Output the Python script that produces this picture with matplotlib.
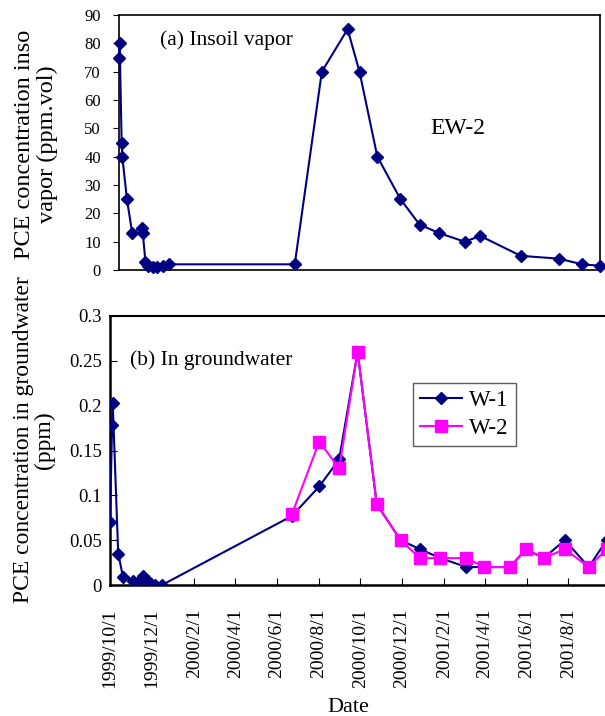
import matplotlib
matplotlib.use("Agg")
import matplotlib.pyplot as plt
import pandas as pd

plt.rcParams['font.family'] = ['Liberation Serif', 'DejaVu Serif']

# ---- data: (a) in-soil vapor, EW-2 ----
vapor_dates = ["1999-10-01", "1999-10-02", "1999-10-05", "1999-10-06", "1999-10-13",
               "1999-10-21", "1999-11-05", "1999-11-06", "1999-11-10", "1999-11-14",
               "1999-11-21", "1999-11-27", "1999-12-07", "1999-12-16", "2000-06-23",
               "2000-08-03", "2000-09-11", "2000-09-29", "2000-10-26", "2000-11-30",
               "2000-12-29", "2001-01-28", "2001-03-07", "2001-03-31", "2001-05-31",
               "2001-07-28", "2001-09-01", "2001-09-28"]
vapor_ew2 = [75, 80, 45, 40, 25, 13, 15, 13, 3, 1.5, 1, 1.2, 1.5, 2, 2,
             70, 85, 70, 40, 25, 16, 13, 10, 12, 5, 4, 2, 1.5]

# ---- data: (b) groundwater ----
w1_dates = ["1999-10-01", "1999-10-04", "1999-10-05", "1999-10-13", "1999-10-20",
            "1999-11-04", "1999-11-10", "1999-11-18", "1999-11-26", "1999-12-06",
            "1999-12-16", "2000-06-23", "2000-08-02", "2000-08-31", "2000-09-27",
            "2000-10-25", "2000-11-29", "2000-12-27", "2001-01-26", "2001-03-05",
            "2001-03-31", "2001-05-08", "2001-05-31", "2001-06-26", "2001-07-27",
            "2001-08-31", "2001-09-26"]
w1_vals = [0.07, 0.178, 0.203, 0.035, 0.009, 0.005, 0.002, 0.01, 0.005, 0.0, 0.0,
           0.077, 0.11, 0.14, 0.26, 0.09, 0.05, 0.04, 0.03, 0.02,
           0.02, 0.02, 0.04, 0.03, 0.05, 0.02, 0.05]

w2_dates = ["2000-06-23", "2000-08-02", "2000-08-31", "2000-09-27", "2000-10-25",
            "2000-11-29", "2000-12-27", "2001-01-26", "2001-03-05", "2001-03-31",
            "2001-05-08", "2001-05-31", "2001-06-26", "2001-07-27", "2001-08-31",
            "2001-09-26"]
w2_vals = [0.079, 0.16, 0.13, 0.26, 0.09, 0.05, 0.03, 0.03, 0.03, 0.02,
           0.02, 0.04, 0.03, 0.04, 0.02, 0.04]

tick_dates = ["1999-10-01", "1999-12-01", "2000-02-01", "2000-04-01", "2000-06-01",
              "2000-08-01", "2000-10-01", "2000-12-01", "2001-02-01", "2001-04-01",
              "2001-06-01", "2001-08-01"]
tick_labels = ["1999/10/1", "1999/12/1", "2000/2/1", "2000/4/1", "2000/6/1",
               "2000/8/1", "2000/10/1", "2000/12/1", "2001/2/1", "2001/4/1",
               "2001/6/1", "2001/8/1"]

vapor_yticks = [0, 10, 20, 30, 40, 50, 60, 70, 80, 90]
gw_yticks = [0, 0.05, 0.1, 0.15, 0.2, 0.25, 0.3]
gw_yticklabels = ["0", "0.05", "0.1", "0.15", "0.2", "0.25", "0.3"]

NAVY = "#000080"
MAG = "#FF00FF"

W, H = 605, 716
fig = plt.figure(figsize=(W / 100, H / 100), dpi=100)

def ax_rect(l, t, r, b):
    return [l / W, (H - b) / H, (r - l) / W, (b - t) / H]

def fx(x):
    return x / W

def fy(y):
    return 1 - y / H

# ---------- top panel ----------
ax1 = fig.add_axes(ax_rect(119, 15, 600, 270))
ax1.plot(pd.to_datetime(vapor_dates), vapor_ew2, color=NAVY, lw=1.5,
         marker='D', ms=6, mfc=NAVY, mec=NAVY, clip_on=False, zorder=3)
ax1.set_xlim(pd.Timestamp("1999-10-01"), pd.Timestamp("2001-09-28"))
ax1.set_ylim(0, 90)
ax1.set_yticks(vapor_yticks)
ax1.set_yticklabels([str(v) for v in vapor_yticks], fontsize=12)
ax1.tick_params(axis='y', direction='out', length=4, width=0.8, pad=9)
ax1.set_xticks([])
for s in ax1.spines.values():
    s.set_linewidth(1.2)
fig.text(fx(160), fy(40), "(a) Insoil vapor", fontsize=15.5, va='center', ha='left')
fig.text(fx(430), fy(128), "EW-2", fontsize=17, va='center', ha='left')
fig.text(fx(36), fy(144), "PCE concentration inso\nvapor (ppm.vol)",
         rotation=90, ha='center', va='center', fontsize=17.5, linespacing=1.1)

# ---------- bottom panel ----------
ax2 = fig.add_axes(ax_rect(110, 316, 610, 585))
ax2.plot(pd.to_datetime(w1_dates), w1_vals, color=NAVY, lw=1.5,
         marker='D', ms=6.5, mfc=NAVY, mec=NAVY, label="W-1", zorder=3)
ax2.plot(pd.to_datetime(w2_dates), w2_vals, color=MAG, lw=1.5,
         marker='s', ms=8, mfc=MAG, mec=MAG, label="W-2", zorder=4)
ax2.set_xlim(pd.Timestamp("1999-10-01"), pd.Timestamp("2001-10-01"))
ax2.set_ylim(0, 0.3)
ax2.set_yticks(gw_yticks)
ax2.set_yticklabels(gw_yticklabels, fontsize=13.5)
ax2.set_xticks(pd.to_datetime(tick_dates))
ax2.set_xticklabels(tick_labels, rotation=90, fontsize=14)
ax2.tick_params(axis='x', direction='in', length=5, width=0.8, pad=17)
ax2.tick_params(axis='y', direction='in', length=5, width=0.8, pad=6)
ax2.spines['top'].set_linewidth(1.5)
ax2.spines['bottom'].set_linewidth(1.8)
ax2.spines['left'].set_linewidth(1.8)
ax2.spines['right'].set_linewidth(1.5)
fig.text(fx(130), fy(360), "(b) In groundwater", fontsize=15.5, va='center', ha='left')
fig.text(fx(34), fy(440), "PCE concentration in groundwater\n(ppm)",
         rotation=90, ha='center', va='center', fontsize=17, linespacing=1.05)
fig.text(fx(348), fy(707), "Date", fontsize=16, ha='center', va='center')

leg = ax2.legend(loc='upper left', bbox_to_anchor=(fx(413), fy(383)),
                 bbox_transform=fig.transFigure, frameon=True, fancybox=False,
                 edgecolor='#333333', fontsize=16.5, handlelength=1.85,
                 borderpad=0.3, labelspacing=0.3, handletextpad=0.3,
                 borderaxespad=0)
leg.get_frame().set_linewidth(1.0)

fig.savefig("out.png", dpi=100)
